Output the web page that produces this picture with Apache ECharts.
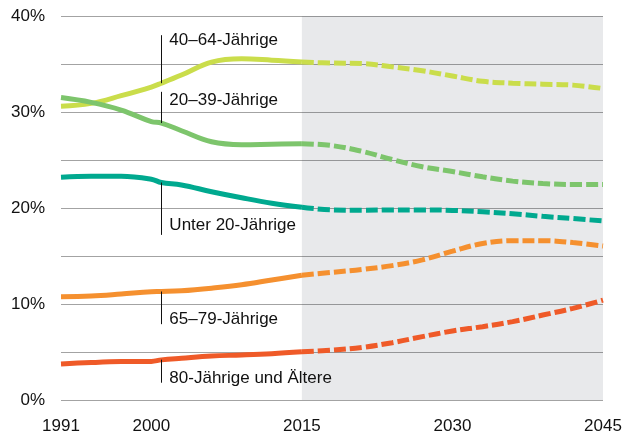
<!DOCTYPE html>
<html>
<head>
    <meta charset="utf-8">
    <title>Altersgruppen 1991–2045</title>
    <script src="https://cdn.jsdelivr.net/npm/echarts@6/dist/echarts.min.js"></script>
    <style type="text/css">
        html, body { margin: 0; padding: 0; background: #fff; }
        #main { width: 635px; height: 435px; }
    </style>
</head>
<body>
    <div id="main"></div>
    <script type="text/javascript">
        // Jahre: Ist-Werte bis 2015, danach Vorausberechnung
        var histYears = [1991, 1994, 1997, 2000, 2001, 2003, 2006, 2009, 2012, 2015];
        var projYears = [2015, 2018, 2021, 2024, 2027, 2030, 2033, 2036, 2039, 2042, 2045];
        var xTicks = [1991, 2000, 2015, 2030, 2045];

        var groups = ['40–64-Jährige', '20–39-Jährige', 'Unter 20-Jährige', '65–79-Jährige', '80-Jährige und Ältere'];
        var colors = ['#cadd4b', '#7dc56c', '#00a98f', '#f5902f', '#ef5a28'];

        var hist4064 = [30.6, 30.9, 31.7, 32.6, 33.0, 33.85, 35.2, 35.55, 35.4, 35.2];
        var hist2039 = [31.5, 31.0, 30.2, 29.0, 28.85, 28.05, 26.9, 26.6, 26.65, 26.7];
        var histU20  = [23.2, 23.3, 23.3, 23.0, 22.65, 22.4, 21.7, 21.07, 20.5, 20.07];
        var hist6579 = [10.76, 10.83, 11.04, 11.28, 11.3, 11.38, 11.65, 12.0, 12.5, 13.0];
        var hist80   = [3.75, 3.9, 4.0, 4.02, 4.18, 4.35, 4.58, 4.69, 4.83, 5.03];

        var proj4064 = [35.2, 35.1, 35.05, 34.7, 34.3, 33.75, 33.2, 33.0, 32.9, 32.8, 32.45];
        var proj2039 = [26.7, 26.5, 25.9, 25.05, 24.3, 23.8, 23.25, 22.8, 22.55, 22.45, 22.45];
        var projU20  = [20.07, 19.8, 19.76, 19.8, 19.8, 19.75, 19.6, 19.4, 19.13, 18.9, 18.65];
        var proj6579 = [13.0, 13.3, 13.6, 14.0, 14.6, 15.5, 16.3, 16.6, 16.6, 16.4, 16.04];
        var proj80   = [5.03, 5.2, 5.48, 5.97, 6.6, 7.19, 7.64, 8.16, 8.85, 9.55, 10.4];

        // Beschriftungen: Strich bei labelYear von lineFrom bis lineTo, Text auf Höhe textY
        var labelYear = 2001;
        var lineFrom = [33.0, 32.1, 22.65, 11.3, 4.2];
        var lineTo   = [38.0, 28.85, 17.2, 7.9, 1.8];
        var textY    = [37.5, 31.25, 18.2, 8.45, 2.3];

        var shadeFrom = 2015, shadeTo = 2045;

        var hist = [hist4064, hist2039, histU20, hist6579, hist80];
        var proj = [proj4064, proj2039, projU20, proj6579, proj80];
        var font = "'Liberation Sans', Arial, sans-serif";

        function pairs(xs, ys) {
            return xs.map(function (x, i) { return [x, ys[i]]; });
        }

        var series = [{
            // graue Fläche für die Vorausberechnung, Gitterlinien scheinen durch
            type: 'line',
            data: [],
            silent: true,
            markArea: {
                silent: true,
                itemStyle: { color: 'rgba(30,40,60,0.1)' },
                data: [[{ xAxis: shadeFrom }, { xAxis: shadeTo }]]
            }
        }];

        groups.forEach(function (g, i) {
            series.push({
                name: g,
                type: 'line',
                data: pairs(histYears, hist[i]),
                smooth: 0.4,
                symbol: 'none',
                lineStyle: { color: colors[i], width: 5 }
            });
            series.push({
                name: g,
                type: 'line',
                data: pairs(projYears, proj[i]),
                smooth: 0.4,
                symbol: 'none',
                lineStyle: { color: colors[i], width: 5, type: [12, 4] }
            });
        });

        series.push({
            type: 'lines',
            coordinateSystem: 'cartesian2d',
            silent: true,
            z: 5,
            lineStyle: { color: '#111', width: 1, opacity: 1 },
            data: groups.map(function (g, i) {
                return { coords: [[labelYear, lineFrom[i]], [labelYear, lineTo[i]]] };
            })
        });

        series.push({
            type: 'scatter',
            symbolSize: 0,
            silent: true,
            z: 5,
            itemStyle: { opacity: 1 },
            data: groups.map(function (g, i) {
                return { name: g, value: [labelYear, textY[i]] };
            }),
            label: {
                show: true,
                position: 'right',
                distance: 8,
                formatter: '{b}',
                color: '#111',
                opacity: 1,
                fontFamily: font,
                fontSize: 17
            }
        });

        var chart = echarts.init(document.getElementById('main'));
        chart.setOption({
            animation: false,
            backgroundColor: '#fff',
            grid: { left: 61, right: 32, top: 16, bottom: 35, containLabel: false },
            xAxis: {
                type: 'value',
                min: 1991,
                max: 2045,
                axisLine: { show: false },
                axisTick: { show: false },
                splitLine: { show: false },
                axisLabel: {
                    customValues: xTicks,
                    margin: 18,
                    color: '#111',
                    fontFamily: font,
                    fontSize: 17,
                    formatter: function (v) { return String(v); }
                }
            },
            yAxis: {
                type: 'value',
                min: 0,
                max: 40,
                interval: 5,
                axisLine: { show: false },
                axisTick: { show: false },
                splitLine: { lineStyle: { color: '#a3a3a3', width: 1 } },
                axisLabel: {
                    margin: 16,
                    color: '#111',
                    fontFamily: font,
                    fontSize: 17,
                    formatter: function (v) { return v % 10 === 0 ? v + '%' : ''; }
                }
            },
            series: series
        });
    </script>
</body>
</html>
